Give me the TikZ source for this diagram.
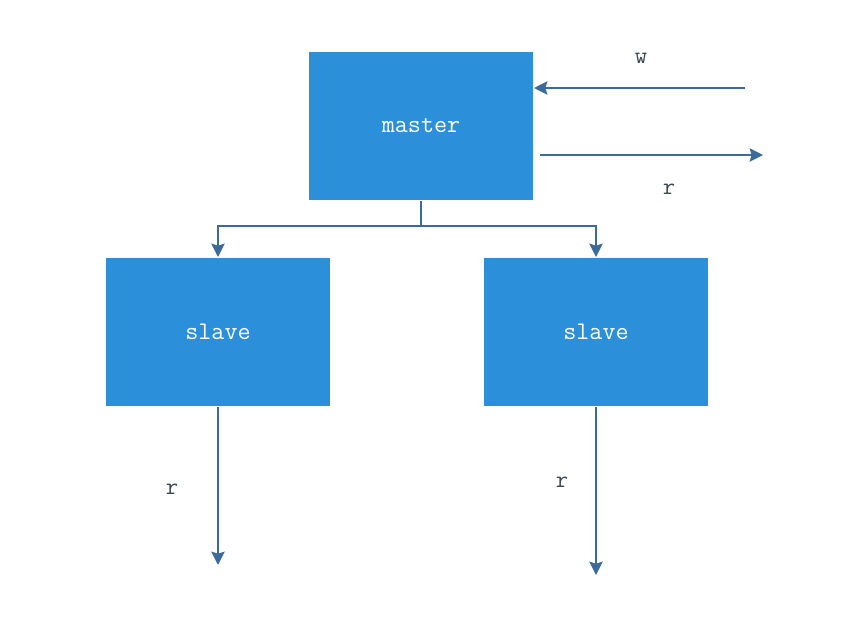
\documentclass[tikz,border=0pt]{standalone}
\usetikzlibrary{arrows.meta,positioning}

\definecolor{boxblue}{HTML}{2B8FDA}
\definecolor{linkblue}{HTML}{3A6B9C}
\definecolor{labelgray}{HTML}{3C4650}

\begin{document}
\begin{tikzpicture}[
        x = 0.75pt, y = -0.75pt, % one unit is one pixel of the page
        > = {Stealth[length=10pt,width=10pt,inset=1.5pt]}, % arrow head style
        line width = 1.5pt,
        draw = linkblue
        ]

        \tikzset{
        unit/.style = {
            fill = boxblue,
            minimum width = 168pt,
            minimum height = 111pt,
            text = white,
            font = \ttfamily\fontsize{19}{21}\selectfont
            },
        lbl/.style = {
            text = labelgray,
            font = \ttfamily\fontsize{18}{20}\selectfont
            }
        }

        \useasboundingbox (0,0) rectangle (848,632);

        \node[unit] (master) at (421,126) {master};
        \node[unit] (slaveA) at (218,332) {slave};
        \node[unit] (slaveB) at (596,332) {slave};

        \coordinate (wIn) at (745,88);
        \coordinate (rOutA) at (540,155);
        \coordinate (rOutB) at (763,155);
        \coordinate (bus) at (421,226);
        \coordinate (readA) at (218,565);
        \coordinate (readB) at (596,575);

        \draw[->, linkblue] (wIn) -- (master.east |- wIn);
        \draw[->, linkblue] (rOutA) -- (rOutB);
        \draw[linkblue] (master.south) -- (bus);
        \draw[->, linkblue] (bus) -| (slaveA.north);
        \draw[->, linkblue] (bus) -| (slaveB.north);
        \draw[->, linkblue] (slaveA.south) -- (readA);
        \draw[->, linkblue] (slaveB.south) -- (readB);

        \node[lbl] (wTag) at (641,58) {w};
        \node[lbl] (rTag) at (669,189) {r};
        \node[lbl] (rTagA) at (172,489) {r};
        \node[lbl] (rTagB) at (562,482) {r};

    \end{tikzpicture}
\end{document}
